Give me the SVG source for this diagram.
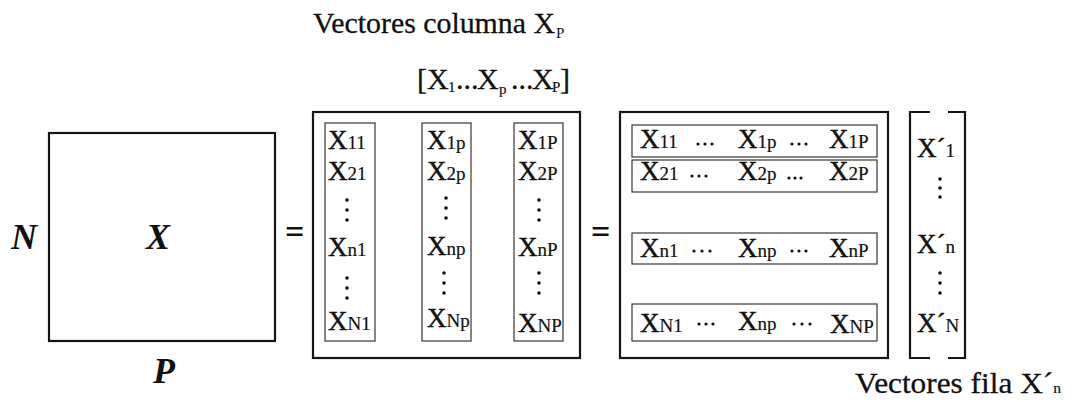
<svg xmlns="http://www.w3.org/2000/svg" width="1072" height="407" viewBox="0 0 1072 407">
<style>
text{font-family:"Liberation Serif","Times New Roman",serif;fill:#111}
.big{font-size:30px;stroke:#111;stroke-width:0.3}
.bi{font-size:36px;font-weight:bold;font-style:italic}
.el{font-size:27px;stroke:#111;stroke-width:0.45}
.sub{font-size:19px;stroke-width:0.2}
.tsub{font-size:15px;stroke-width:0.2}
.eq{font-size:34px;font-weight:bold}
.thick{fill:none;stroke:#1a1410;stroke-width:2.2}
.thin{fill:none;stroke:#3a3430;stroke-width:1.2}
.dot{fill:#111}
</style>
<rect width="1072" height="407" fill="#fff"/>

<g id="title">
<text class="big" x="313" y="33" textLength="242" lengthAdjust="spacingAndGlyphs">Vectores columna X</text><text class="tsub" x="556" y="38">P</text>
</g>
<g id="colvec-label">
<text class="big" y="89"><tspan x="417">[X</tspan><tspan class="tsub" x="448" y="92">1</tspan><tspan x="456" y="89">...</tspan><tspan x="477">X</tspan><tspan class="tsub" x="499" y="94">p</tspan><tspan x="511" y="89">...</tspan><tspan x="532">X</tspan><tspan class="tsub" x="552" y="92">P</tspan><tspan x="560" y="89">]</tspan></text>
</g>

<g id="matrix-X">
<rect class="thick" x="49" y="133" width="226" height="208"/>
<text class="bi" x="11" y="249">N</text>
<text class="bi" x="146" y="249">X</text>
<text class="bi" x="153" y="383">P</text>
</g>

<g id="eq1"><text class="eq" x="285" y="243">=</text></g>
<g id="eq2"><text class="eq" x="591" y="243">=</text></g>

<g id="column-matrix">
<rect class="thick" x="313" y="112" width="267" height="246"/>
<g id="col-1">
<rect class="thin" x="325" y="123" width="50" height="218"/>
<text class="el" x="328" y="149">X<tspan class="sub">11</tspan></text>
<text class="el" x="328" y="180">X<tspan class="sub">21</tspan></text>
<circle class="dot" cx="347" cy="200" r="1.8"/><circle class="dot" cx="347" cy="210" r="1.8"/><circle class="dot" cx="347" cy="220" r="1.8"/>
<text class="el" x="328" y="256">X<tspan class="sub">n1</tspan></text>
<circle class="dot" cx="347" cy="278" r="1.8"/><circle class="dot" cx="347" cy="288" r="1.8"/><circle class="dot" cx="347" cy="298" r="1.8"/>
<text class="el" x="328" y="330">X<tspan class="sub">N1</tspan></text>
</g>
<g id="col-p">
<rect class="thin" x="422" y="123" width="49" height="218"/>
<text class="el" x="427" y="149">X<tspan class="sub">1p</tspan></text>
<text class="el" x="427" y="180">X<tspan class="sub">2p</tspan></text>
<circle class="dot" cx="446" cy="198" r="1.8"/><circle class="dot" cx="446" cy="208" r="1.8"/><circle class="dot" cx="446" cy="218" r="1.8"/>
<text class="el" x="427" y="255">X<tspan class="sub">np</tspan></text>
<circle class="dot" cx="444" cy="273" r="1.8"/><circle class="dot" cx="444" cy="283" r="1.8"/><circle class="dot" cx="444" cy="293" r="1.8"/>
<text class="el" x="427" y="327">X<tspan class="sub">Np</tspan></text>
</g>
<g id="col-P">
<rect class="thin" x="514" y="123" width="49" height="218"/>
<text class="el" x="518" y="149">X<tspan class="sub">1P</tspan></text>
<text class="el" x="518" y="180">X<tspan class="sub">2P</tspan></text>
<circle class="dot" cx="539" cy="200" r="1.8"/><circle class="dot" cx="539" cy="210" r="1.8"/><circle class="dot" cx="539" cy="220" r="1.8"/>
<text class="el" x="518" y="256">X<tspan class="sub">nP</tspan></text>
<circle class="dot" cx="539" cy="273" r="1.8"/><circle class="dot" cx="539" cy="283" r="1.8"/><circle class="dot" cx="539" cy="293" r="1.8"/>
<text class="el" x="518" y="332">X<tspan class="sub">NP</tspan></text>
</g>
</g>

<g id="row-matrix">
<rect class="thick" x="620" y="112" width="268" height="246"/>
<g id="row-1">
<rect class="thin" x="632" y="125" width="245" height="32"/>
<text class="el" x="640" y="148">X<tspan class="sub">11</tspan></text>
<circle class="dot" cx="698" cy="144" r="1.6"/><circle class="dot" cx="705" cy="144" r="1.6"/><circle class="dot" cx="712" cy="144" r="1.6"/>
<text class="el" x="738" y="148">X<tspan class="sub">1p</tspan></text>
<circle class="dot" cx="792" cy="144" r="1.6"/><circle class="dot" cx="799" cy="144" r="1.6"/><circle class="dot" cx="806" cy="144" r="1.6"/>
<text class="el" x="829" y="148">X<tspan class="sub">1P</tspan></text>
</g>
<g id="row-2">
<rect class="thin" x="632" y="160" width="245" height="32"/>
<text class="el" x="640" y="180">X<tspan class="sub">21</tspan></text>
<circle class="dot" cx="692" cy="176" r="1.6"/><circle class="dot" cx="699" cy="176" r="1.6"/><circle class="dot" cx="706" cy="176" r="1.6"/>
<text class="el" x="738" y="180">X<tspan class="sub">2p</tspan></text>
<circle class="dot" cx="789" cy="178" r="1.6"/><circle class="dot" cx="795" cy="178" r="1.6"/><circle class="dot" cx="801" cy="178" r="1.6"/>
<text class="el" x="829" y="180">X<tspan class="sub">2P</tspan></text>
</g>
<g id="row-n">
<rect class="thin" x="632" y="233" width="245" height="31"/>
<text class="el" x="640" y="257">X<tspan class="sub">n1</tspan></text>
<circle class="dot" cx="694" cy="251" r="1.6"/><circle class="dot" cx="702" cy="251" r="1.6"/><circle class="dot" cx="710" cy="251" r="1.6"/>
<text class="el" x="738" y="257">X<tspan class="sub">np</tspan></text>
<circle class="dot" cx="792" cy="251" r="1.6"/><circle class="dot" cx="799" cy="251" r="1.6"/><circle class="dot" cx="806" cy="251" r="1.6"/>
<text class="el" x="829" y="257">X<tspan class="sub">nP</tspan></text>
</g>
<g id="row-N">
<rect class="thin" x="632" y="304" width="245" height="37"/>
<text class="el" x="640" y="332">X<tspan class="sub">N1</tspan></text>
<circle class="dot" cx="699" cy="324" r="1.6"/><circle class="dot" cx="706" cy="324" r="1.6"/><circle class="dot" cx="713" cy="324" r="1.6"/>
<text class="el" x="738" y="330">X<tspan class="sub">np</tspan></text>
<circle class="dot" cx="794" cy="324" r="1.6"/><circle class="dot" cx="802" cy="324" r="1.6"/><circle class="dot" cx="810" cy="324" r="1.6"/>
<text class="el" x="830" y="333">X<tspan class="sub">NP</tspan></text>
</g>
</g>

<g id="row-vector">
<path class="thick" d="M930 112 H910 V358 H930 M948 112 H965 V358 H948"/>
<text class="el" x="917" y="157">X´<tspan class="sub">1</tspan></text>
<circle class="dot" cx="940" cy="179" r="1.8"/><circle class="dot" cx="940" cy="188" r="1.8"/><circle class="dot" cx="940" cy="197" r="1.8"/>
<text class="el" x="917" y="253">X´<tspan class="sub">n</tspan></text>
<circle class="dot" cx="940" cy="273" r="1.8"/><circle class="dot" cx="940" cy="283" r="1.8"/><circle class="dot" cx="940" cy="293" r="1.8"/>
<text class="el" x="917" y="332">X´<tspan class="sub">N</tspan></text>
</g>

<g id="rowvec-label">
<text class="big" x="855" y="393" textLength="206" lengthAdjust="spacingAndGlyphs">Vectores fila X´<tspan class="tsub">n</tspan></text>
</g>
</svg>
